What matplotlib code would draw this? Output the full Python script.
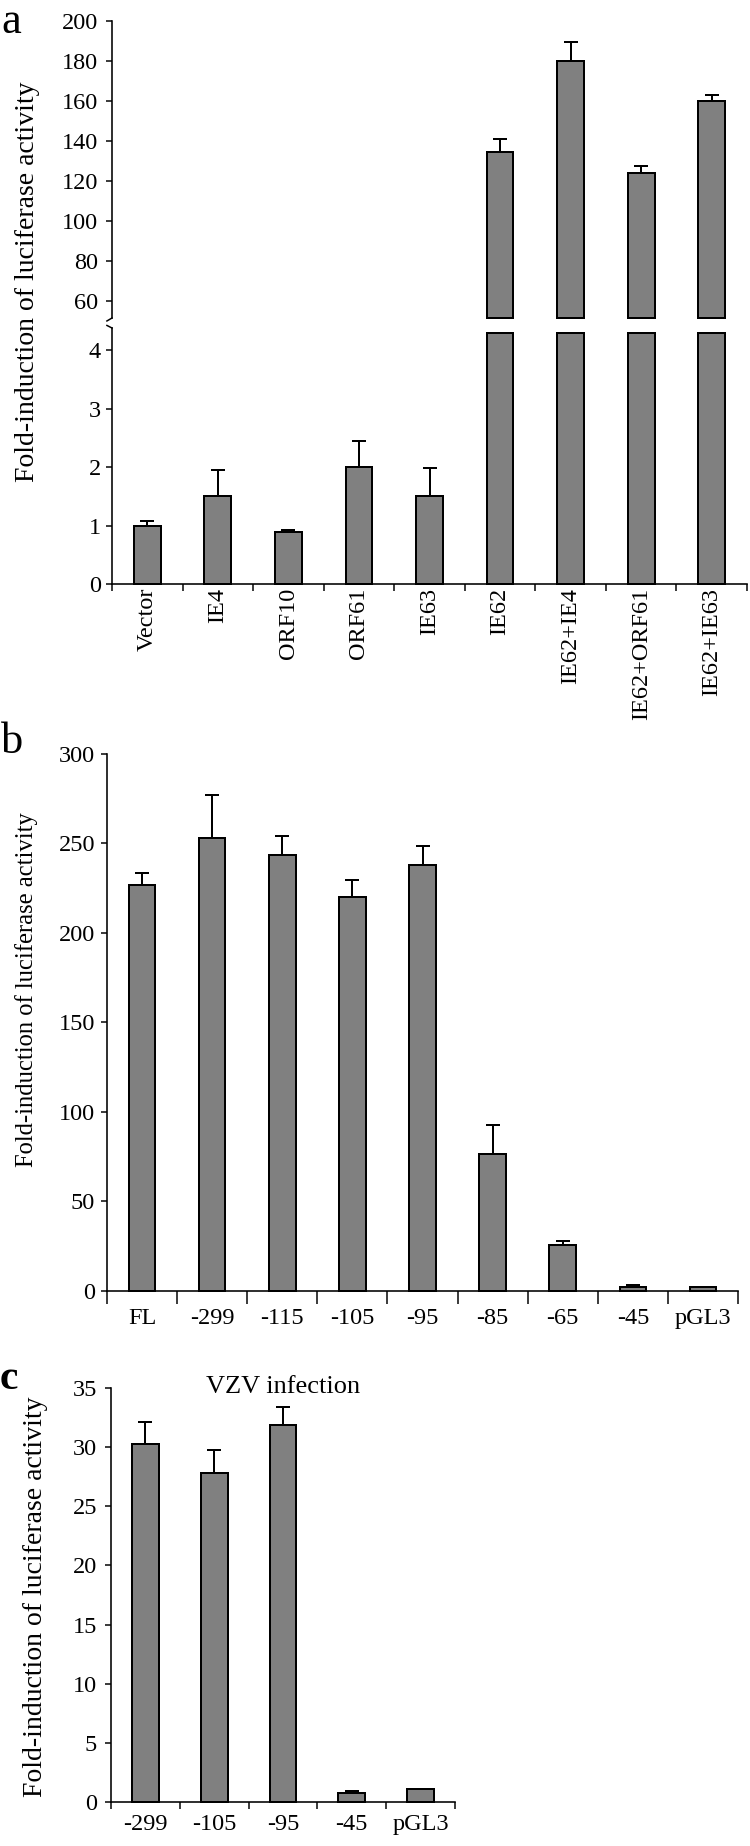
import numpy as np
import matplotlib
matplotlib.use("Agg")
import matplotlib.pyplot as plt

plt.rcParams['font.family'] = ['Liberation Serif', 'DejaVu Serif']

# ---------------- data ----------------
cats_a = ["Vector", "IE4", "ORF10", "ORF61", "IE63", "IE62",
          "IE62+IE4", "IE62+ORF61", "IE62+IE63"]
vals_a = [1.0, 1.5, 0.89, 2.0, 1.51, 134.6, 180.0, 124.1, 160.1]
err_a = [0.08, 0.45, 0.04, 0.45, 0.47, 6.5, 9.4, 3.5, 3.0]

cats_b = ["FL", "-299", "-115", "-105", "-95", "-85", "-65", "-45", "pGL3"]
vals_b = [226.9, 253.0, 243.6, 220.1, 237.6, 76.3, 25.6, 2.1, 2.1]
err_b = [6.4, 23.7, 10.7, 9.4, 10.7, 16.6, 2.2, 1.3, 0.0]

cats_c = ["-299", "-105", "-95", "-45", "pGL3"]
vals_c = [30.3, 27.8, 31.9, 0.73, 1.1]
err_c = [1.8, 2.0, 1.5, 0.22, 0.0]

ylabel = "Fold-induction of luciferase activity"

# ---------------- layout ----------------
W, H = 750, 1846
DPI = 100
fig = plt.figure(figsize=(W / DPI, H / DPI), dpi=DPI)
PX = 72.0 / DPI  # points per pixel

FILL = "#808080"
FS = 17.5


def rect(left, right, top, bottom):
    return [left / W, 1 - bottom / H, (right - left) / W, (bottom - top) / H]


def ftext(x, y, s, **kw):
    fig.text(x / W, 1 - y / H, s, **kw)


def style(ax, ylen=6, xlen=7, ypad=6, xpad=3):
    for s in ["top", "right"]:
        ax.spines[s].set_visible(False)
    for s in ["left", "bottom"]:
        ax.spines[s].set_linewidth(1.6 * PX)
    ax.tick_params(axis="y", direction="out", length=ylen * PX, width=1.5 * PX,
                   pad=ypad * PX, labelsize=FS)
    ax.tick_params(axis="x", which="major", direction="out", length=xlen * PX,
                   width=1.5 * PX, labelsize=FS)
    ax.tick_params(axis="x", which="minor", length=0, pad=xpad * PX, labelsize=FS)


def bars(ax, x, heights, bottom, err, width):
    x = np.asarray(x, float)
    heights = np.asarray(heights, float)
    ax.bar(x, heights, width=width, bottom=bottom, color=FILL, edgecolor="black",
           linewidth=2.0 * PX, zorder=3, clip_on=False)
    err = np.asarray(err, float)
    m = err > 0
    if m.any():
        tops = (heights + bottom)[m] if np.ndim(bottom) == 0 else (heights + np.asarray(bottom))[m]
        ax.errorbar(x[m], tops, yerr=[np.zeros(m.sum()), err[m]], fmt="none",
                    ecolor="black", elinewidth=2.0 * PX, capsize=7 * PX,
                    capthick=2.0 * PX, zorder=2, clip_on=False)


def cat_axis(ax, labels, rotation=0):
    n = len(labels)
    ax.set_xlim(-0.5, n - 0.5)
    ax.set_xticks(np.arange(n + 1) - 0.5)
    ax.set_xticklabels([])
    ax.set_xticks(np.arange(n), minor=True)
    ax.set_xticklabels(labels, minor=True, rotation=rotation)


# ---------------- panel a ----------------
n_a = len(cats_a)
xa = np.arange(n_a)
va = np.array(vals_a)
ea = np.array(err_a)
big = va > 10

ax_top = fig.add_axes(rect(112, 747, 20.7, 318))
ax_bot = fig.add_axes(rect(112, 747, 328, 584))

top_lo, top_hi = 51.5, 200
bot_lo, bot_hi = 0, 4.38
cut = 4.3

ax_top.set_ylim(top_lo, top_hi)
ax_top.set_xlim(-0.5, n_a - 0.5)
style(ax_top, ypad=8)
ax_top.spines["bottom"].set_visible(False)
ax_top.set_xticks([])
ax_top.set_yticks(np.arange(60, 201, 20))
bars(ax_top, xa[big], va[big] - top_lo, top_lo, ea[big], 0.38)

ax_bot.set_ylim(bot_lo, bot_hi)
style(ax_bot, ypad=5, xlen=7)
cat_axis(ax_bot, cats_a, rotation=90)
ax_bot.tick_params(axis="x", which="minor", pad=4 * PX)
ax_bot.set_yticks(np.arange(0, 5, 1))
bars(ax_bot, xa, np.minimum(va, cut), 0, np.where(big, 0, ea), 0.38)

# break marks on the y axis
ax_top.plot([0, -0.008], [0, -0.01], transform=ax_top.transAxes, color="black",
            lw=1.5 * PX, clip_on=False)
ax_bot.plot([0, -0.008], [1, 1.01], transform=ax_bot.transAxes, color="black",
            lw=1.5 * PX, clip_on=False)

ftext(28, 281.5, ylabel, rotation=90, ha="center", va="center", fontsize=20)
ftext(1, 2, "a", ha="left", va="top", fontsize=32)

# ---------------- panel b ----------------
n_b = len(cats_b)
ax_b = fig.add_axes(rect(107, 738, 753.7, 1291))
ax_b.set_ylim(0, 300)
style(ax_b, xlen=13, ypad=6)
cat_axis(ax_b, cats_b)
ax_b.tick_params(axis="x", which="minor", pad=17 * PX)
ax_b.set_yticks(np.arange(0, 301, 50))
bars(ax_b, np.arange(n_b), vals_b, 0, err_b, 0.38)

ftext(27, 990, ylabel, rotation=90, ha="center", va="center", fontsize=17.7)
ftext(1, 722, "b", ha="left", va="top", fontsize=32)

# ---------------- panel c ----------------
n_c = len(cats_c)
ax_c = fig.add_axes(rect(111, 455, 1388, 1802))
ax_c.set_ylim(0, 35)
style(ax_c, xlen=7, ypad=8)
cat_axis(ax_c, cats_c)
ax_c.tick_params(axis="x", which="minor", pad=12 * PX)
ax_c.set_yticks(np.arange(0, 36, 5))
bars(ax_c, np.arange(n_c), vals_c, 0, err_c, 0.39)

ftext(283, 1387, "VZV infection", ha="center", va="center", fontsize=19)
ftext(36, 1597, ylabel, rotation=90, ha="center", va="center", fontsize=20)
ftext(0, 1360, "c", ha="left", va="top", fontsize=30, fontweight="bold")

fig.savefig("out.png", dpi=DPI)
